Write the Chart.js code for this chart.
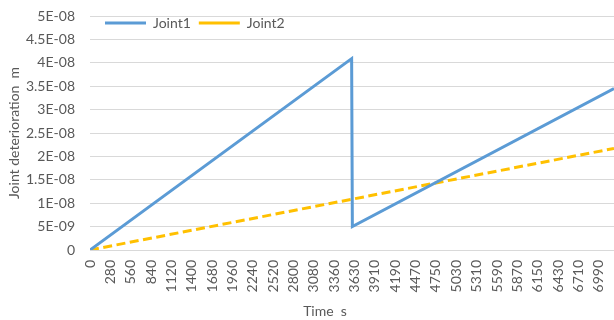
<!DOCTYPE html>
<html>
<head>
<meta charset="utf-8">
<title>Joint deterioration</title>
<script src="https://cdn.jsdelivr.net/npm/chart.js@4/dist/chart.umd.min.js"></script>
<style>
  html, body { margin: 0; padding: 0; background: #ffffff; }
  #wrap { width: 614px; height: 320px; }
</style>
</head>
<body>
<div id="wrap"><canvas id="chart" width="614" height="320"></canvas></div>
<script>
// Category labels shown along the time axis (one every 28 samples)
const timeTickLabels = ['0', '280', '560', '840', '1120', '1400', '1680', '1960', '2240',
  '2520', '2800', '3080', '3360', '3630', '3910', '4190', '4470', '4750', '5030', '5310',
  '5590', '5870', '6150', '6430', '6710', '6990'];
// Value axis labels in general number format
const valueTickLabels = ['0', '5E-09', '1E-08', '1.5E-08', '2E-08', '2.5E-08', '3E-08',
  '3.5E-08', '4E-08', '4.5E-08', '5E-08'];

// Joint1: grows until the reset at 3600 s, then grows again from the lower level
const joint1Time = [0, 3600, 3600, 7200];
const joint1Value = [0, 4.09e-8, 5.0e-9, 3.45e-8];
// Joint2: steady growth over the whole run
const joint2Time = [0, 7200];
const joint2Value = [0, 2.17e-8];

const SAMPLE_STEP = 10;      // seconds between recorded rows
const RESET_TIME = 3600;     // the reset row is recorded twice
const LABEL_EVERY = 280;     // axis slots between category labels
const VALUE_STEP = 5e-9;
const X_TITLE = 'Time  s';
const Y_TITLE = 'Joint deterioration  m';

// Rows after the repeated reset row sit one sample further along the category axis
function toPoints(times, values) {
  let shifted = false;
  return times.map((t, i) => {
    if (i > 0 && t === times[i - 1]) shifted = true;
    if (t > RESET_TIME) shifted = true;
    return { x: t + (shifted ? SAMPLE_STEP : 0), y: values[i] };
  });
}

const TEXT = '#595959';
Chart.defaults.font.family = 'Lato, "Open Sans", sans-serif';
Chart.defaults.font.size = 14;
Chart.defaults.color = TEXT;

const placement = {
  id: 'placement',
  afterLayout(chart) {
    // legend sits inside the plot, top-left
    const lg = chart.legend;
    lg.top = 8;
    lg.bottom = 40;
    lg.left = 97;
    lg.right = 614;
  },
  afterDraw(chart) {
    const ctx = chart.ctx;
    ctx.save();
    ctx.font = '14px ' + Chart.defaults.font.family;
    ctx.fillStyle = TEXT;
    ctx.textAlign = 'center';
    ctx.textBaseline = 'middle';
    ctx.fillText(X_TITLE, 325, 311);
    ctx.restore();
  }
};

new Chart(document.getElementById('chart'), {
  type: 'line',
  data: {
    datasets: [
      {
        label: 'Joint1',
        data: toPoints(joint1Time, joint1Value),
        borderColor: '#5B9BD5',
        backgroundColor: '#5B9BD5',
        borderWidth: 3,
        pointRadius: 0,
        fill: false,
        tension: 0
      },
      {
        label: 'Joint2',
        data: toPoints(joint2Time, joint2Value),
        borderColor: '#FFC000',
        backgroundColor: '#FFC000',
        borderWidth: 3,
        borderDash: [9, 4.5],
        pointRadius: 0,
        fill: false,
        tension: 0
      }
    ]
  },
  options: {
    responsive: false,
    animation: false,
    devicePixelRatio: 1,
    layout: { autoPadding: false, padding: { left: 0, right: 0, top: 0, bottom: 0 } },
    plugins: {
      tooltip: { enabled: false },
      legend: {
        position: 'top',
        align: 'start',
        maxHeight: 16,
        labels: {
          usePointStyle: true,
          pointStyle: 'line',
          pointStyleWidth: 41,
          padding: 8,
          color: TEXT,
          font: { size: 14 }
        }
      }
    },
    scales: {
      x: {
        type: 'linear',
        min: 0,
        max: 7210,
        afterBuildTicks(scale) {
          scale.ticks = timeTickLabels.map((_, k) => ({ value: k * LABEL_EVERY }));
        },
        afterFit(scale) {
          scale.height = 70;
          scale.paddingLeft = 0;
          scale.paddingRight = 0;
        },
        ticks: {
          autoSkip: false,
          minRotation: 90,
          maxRotation: 90,
          padding: 10,
          color: TEXT,
          font: { size: 14 },
          callback: (v, i) => timeTickLabels[i]
        },
        grid: { display: false, drawTicks: false },
        border: { display: false }
      },
      y: {
        min: 0,
        max: 5e-8,
        afterBuildTicks(scale) {
          scale.ticks = valueTickLabels.map((_, i) => ({ value: i * VALUE_STEP }));
        },
        afterFit(scale) {
          scale.width = 90;
          scale.paddingTop = 0;
          scale.paddingBottom = 0;
        },
        ticks: {
          padding: 15,
          color: TEXT,
          font: { size: 14 },
          callback: (v, i) => valueTickLabels[i]
        },
        grid: { color: '#D9D9D9', lineWidth: 1, drawTicks: false },
        border: { display: false },
        title: {
          display: true,
          text: Y_TITLE,
          color: TEXT,
          font: { size: 14 },
          padding: { top: 6, bottom: 0 }
        }
      }
    }
  },
  plugins: [placement]
});
</script>
</body>
</html>
